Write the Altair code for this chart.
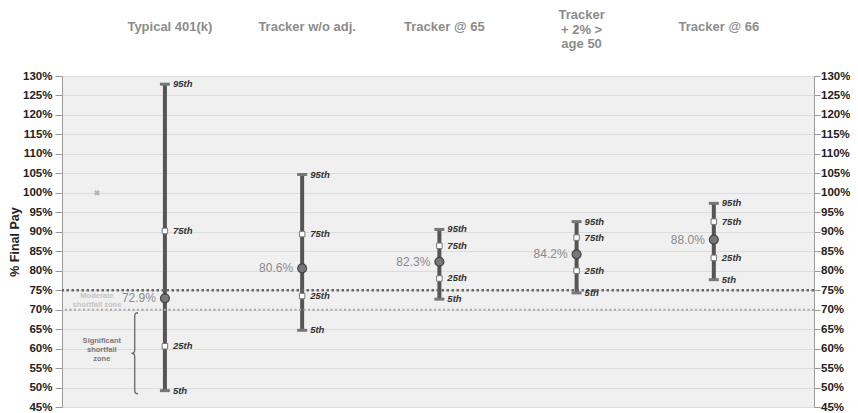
import altair as alt
import pandas as pd

# ---- data ----
groups = ["Typical 401(k)", "Tracker w/o adj.", "Tracker @ 65", "Tracker\n+ 2% >\nage 50", "Tracker @ 66"]
xpos = [0.75, 1.75, 2.75, 3.75, 4.75]
p5 = [49.2, 64.7, 72.7, 74.3, 77.7]
p25 = [60.6, 73.5, 78.0, 80.0, 83.3]
median = [72.9, 80.6, 82.3, 84.2, 88.0]
p75 = [90.2, 89.4, 86.4, 88.5, 92.6]
p95 = [127.9, 104.7, 90.6, 92.6, 97.3]
pct_names = ["5th", "25th", "75th", "95th"]

y_ticks = [45, 50, 55, 60, 65, 70, 75, 80, 85, 90, 95, 100, 105, 110, 115, 120, 125, 130]
moderate_line = 75
significant_line = 70
ref_marker_x = [0.255]
ref_marker_y = [100]
moderate_text = ["Moderate\nshortfall zone"]
moderate_xy = [0.255, 72.4]
significant_text = ["Significant\nshortfall\nzone"]
significant_xy = [0.29, 59.6]
brace_xy = [0.53, 58.8]

# ---- tables ----
df = pd.DataFrame({"group": groups, "x": xpos, "p5": p5, "p25": p25,
                   "median": median, "p75": p75, "p95": p95})
df["mlabel"] = [f"{m:.1f}%" for m in median]
df["nlines"] = [g.count("\n") + 1 for g in groups]
long_rows = []
for i in range(len(groups)):
    for name, arr in zip(pct_names, [p5, p25, p75, p95]):
        long_rows.append({"x": xpos[i], "v": arr[i], "label": name})
pct = pd.DataFrame(long_rows)

W, H = 752, 331
FONT = "Liberation Sans"
LH = 14.5
xs = alt.Scale(domain=[0, 5.48], nice=False, zero=False)
ys = alt.Scale(domain=[45, 130], nice=False, zero=False)

X = lambda f: alt.X(f, type="quantitative", scale=xs, axis=None)
Y = lambda f, axis=None: alt.Y(f, type="quantitative", scale=ys, axis=axis)

left_axis = alt.Axis(values=y_ticks, labelExpr="datum.value + '%'", orient="left",
                     labelFont=FONT, labelFontSize=11.5, labelFontWeight="bold", labelColor="#222",
                     tickColor="#999", tickSize=7, labelPadding=3, domain=False,
                     grid=True, gridColor="#dcdcdc", gridWidth=1,
                     title="% Final Pay", titleFont=FONT, titleFontSize=12.5,
                     titleFontWeight="bold", titleColor="#222", titlePadding=1)
right_axis = alt.Axis(values=y_ticks, labelExpr="datum.value + '%'", orient="right",
                      labelFont=FONT, labelFontSize=11.5, labelFontWeight="bold", labelColor="#222",
                      tickColor="#999", tickSize=6, labelPadding=0.5, domain=False,
                      grid=False, title=None)

base = alt.Chart(df)

bars = base.mark_rule(color="#555", strokeWidth=4).encode(
    x=X("x"), y=Y("p5", left_axis), y2="p95")

zone75 = alt.Chart(pd.DataFrame({"v": [moderate_line]})).mark_rule(
    color="#666", strokeWidth=2.5, strokeDash=[2.5, 2.5]).encode(y=Y("v", right_axis))
zone70 = alt.Chart(pd.DataFrame({"v": [significant_line]})).mark_rule(
    color="#aaa", strokeWidth=2, strokeDash=[2, 2.5]).encode(y=Y("v"))

caps_df = pct[pct["label"].isin(["5th", "95th"])]
caps = alt.Chart(caps_df).mark_point(shape="M -1 0 L 1 0", size=100, filled=False,
                                     stroke="#777", strokeWidth=3, opacity=1).encode(
    x=X("x"), y=Y("v"))

quart_df = pct[pct["label"].isin(["25th", "75th"])]
quarts = alt.Chart(quart_df).mark_point(shape="square", size=30, filled=True, fill="white",
                                        stroke="#777", strokeWidth=1, opacity=1).encode(
    x=X("x"), y=Y("v"))

meds = base.mark_circle(size=80, fill="#777", stroke="#444", strokeWidth=1.2, opacity=1).encode(
    x=X("x"), y=Y("median"))

med_labels = base.mark_text(align="right", baseline="middle", dx=-9, font=FONT,
                            fontSize=12, color="#8a8a8a").encode(
    x=X("x"), y=Y("median"), text="mlabel:N")

pct_labels = alt.Chart(pct).mark_text(align="left", baseline="middle", dx=8, font=FONT,
                                      fontSize=9.5, fontStyle="italic", fontWeight="bold",
                                      color="#333").encode(
    x=X("x"), y=Y("v"), text="label:N")

title_style = dict(align="center", baseline="middle", dx=5, font=FONT, fontSize=13,
                   fontWeight="bold", color="#8c8c8c", lineBreak="\n", lineHeight=LH)
titles1 = base.transform_filter("datum.nlines == 1").mark_text(**title_style).encode(
    x=X("x"), y=alt.value(-49), text="group:N")
titles3 = base.transform_filter("datum.nlines == 3").mark_text(dy=-12, **title_style).encode(
    x=X("x"), y=alt.value(-49), text="group:N")

marker = alt.Chart(pd.DataFrame({"x": ref_marker_x, "v": ref_marker_y})).mark_point(
    shape="cross", angle=45, size=35, filled=True, fill="#b5b5b5", opacity=1).encode(
    x=X("x"), y=Y("v"))

mod = alt.Chart(pd.DataFrame({"x": [moderate_xy[0]], "v": [moderate_xy[1]], "t": moderate_text})).mark_text(
    align="center", baseline="middle", dy=-4, font=FONT, fontSize=7.5, fontWeight="bold",
    color="#c4c4c4", lineBreak="\n", lineHeight=8.5).encode(x=X("x"), y=Y("v"), text="t:N")

sig = alt.Chart(pd.DataFrame({"x": [significant_xy[0]], "v": [significant_xy[1]], "t": significant_text})).mark_text(
    align="center", baseline="middle", dy=-9, font=FONT, fontSize=7.5, fontWeight="bold",
    color="#777", lineBreak="\n", lineHeight=9).encode(x=X("x"), y=Y("v"), text="t:N")

brace_path = ("M 0.08 -1 Q 0 -1 0 -0.92 L 0 -0.08 Q 0 0 -0.08 0 "
              "Q 0 0 0 0.08 L 0 0.92 Q 0 1 0.08 1")
brace = alt.Chart(pd.DataFrame({"x": [brace_xy[0]], "v": [brace_xy[1]]})).mark_point(
    shape=brace_path, size=81 * 81, filled=False, stroke="#666", strokeWidth=1.3, opacity=1).encode(
    x=X("x"), y=Y("v"))

chart = alt.layer(
    bars, zone75, zone70, caps, quarts, meds, med_labels, pct_labels, titles1, titles3,
    marker, mod, sig, brace
).resolve_axis(y="independent").properties(
    width=W, height=H,
    autosize=alt.AutoSizeParams(type="none"),
    padding={"left": 54, "top": 68, "right": 36, "bottom": 8},
    background="white",
).configure_view(fill="#f0f0f0", stroke="#999", strokeWidth=1)

chart.save("out.html", embed_options={"renderer": "svg", "actions": False})
